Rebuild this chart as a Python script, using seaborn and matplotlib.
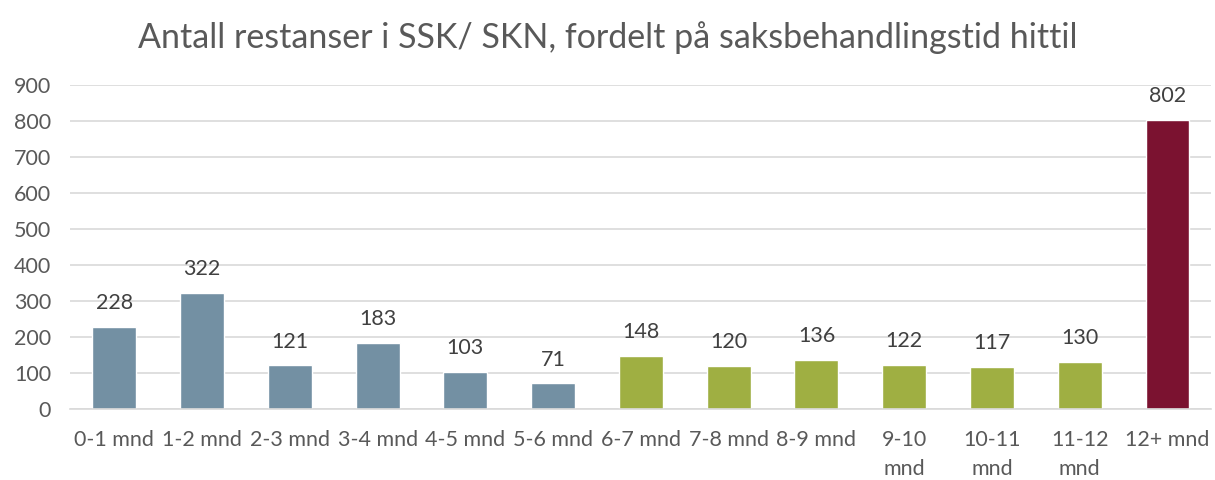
import matplotlib
matplotlib.use("Agg")
import matplotlib.pyplot as plt
import seaborn as sns
import pandas as pd

categories = ["0-1 mnd", "1-2 mnd", "2-3 mnd", "3-4 mnd", "4-5 mnd", "5-6 mnd",
              "6-7 mnd", "7-8 mnd", "8-9 mnd", "9-10\nmnd", "10-11\nmnd",
              "11-12\nmnd", "12+ mnd"]
values = [228, 322, 121, 183, 103, 71, 148, 120, 136, 122, 117, 130, 802]
groups = ["0-6"] * 6 + ["6-12"] * 6 + ["12+"]
palette = {"0-6": "#7390A3", "6-12": "#9FAF42", "12+": "#7B1230"}
title = "Antall restanser i SSK/ SKN, fordelt på saksbehandlingstid hittil"
yticks = [0, 100, 200, 300, 400, 500, 600, 700, 800, 900]

sns.set_theme(style="white")
plt.rcParams['font.family'] = ['Lato', 'DejaVu Sans']

df = pd.DataFrame({"cat": categories, "val": values, "grp": groups})

fig = plt.figure(figsize=(12.15, 4.8), dpi=100)
ax = fig.add_axes([0.058, 0.148, 0.939, 0.675])
sns.barplot(data=df, x="cat", y="val", hue="grp", palette=palette, dodge=False,
            width=0.5, legend=False, ax=ax, saturation=1)

ax.set_ylim(0, 900)
ax.set_yticks(yticks)
ax.set_xlim(-0.5, len(categories) - 0.5)
ax.grid(axis="y", color="#D9D9D9", linewidth=1.2)
ax.set_axisbelow(True)
for s in ["top", "right", "left"]:
    ax.spines[s].set_visible(False)
ax.spines["bottom"].set_color("#D9D9D9")
ax.spines["bottom"].set_linewidth(1.2)
ax.tick_params(axis="both", length=0, labelsize=15.5, colors="#595959")
ax.tick_params(axis="x", pad=15)
ax.tick_params(axis="y", pad=14)
for lbl in ax.get_xticklabels():
    lbl.set_linespacing(1.6)
ax.set_xlabel("")
ax.set_ylabel("")

for i, v in enumerate(values):
    ax.annotate(str(v), (i, v), xytext=(0, 10), textcoords="offset points",
                ha="center", va="bottom", fontsize=15.5, color="#404040")

fig.suptitle(title, fontsize=24.5, color="#595959", y=0.955)
fig.savefig("out.png", dpi=100)
